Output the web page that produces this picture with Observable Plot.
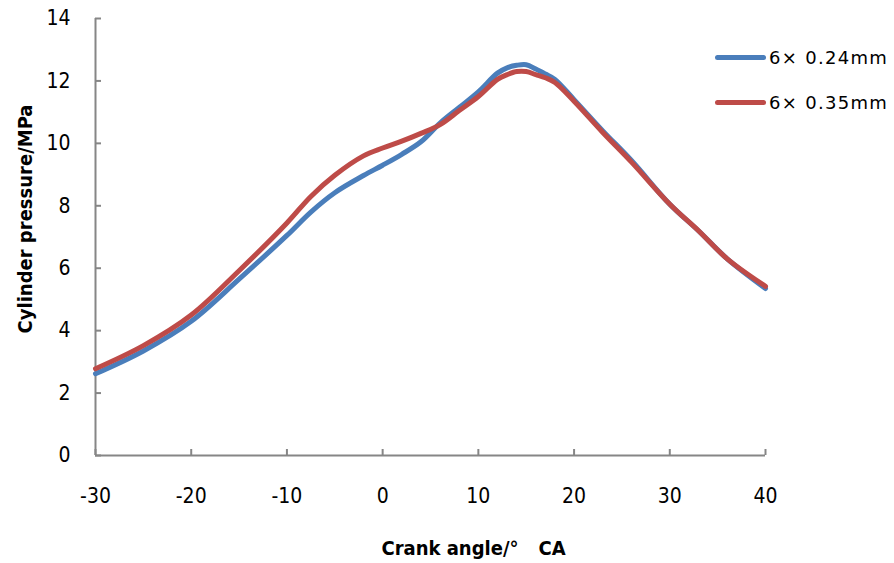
<!DOCTYPE html>
<html>
<head>
<meta charset="utf-8">
<script src="https://cdn.jsdelivr.net/npm/d3@7"></script>
<script src="https://cdn.jsdelivr.net/npm/@observablehq/plot@0.6"></script>
<style>
  html, body { margin: 0; padding: 0; background: #fff; }
  #wrap { position: relative; width: 894px; height: 563px; }
  .legend { position: absolute; left: 715px; font-family: "DejaVu Sans", sans-serif; font-size: 18px; letter-spacing: 1.3px; color: #000; display: flex; align-items: center; white-space: nowrap; }
  .legend .sw { width: 51px; height: 5px; border-radius: 2.5px; margin-right: 3px; }
</style>
</head>
<body>
<div id="wrap"></div>
<script>
// Crank angle (°CA)
const angles = [-30, -25, -20, -15, -10, -7.5, -5, -2, 0, 2, 4, 6, 8, 10, 12, 13, 14, 15, 16, 17, 18, 20, 23, 26, 30, 33, 36, 40];
// Cylinder pressure (MPa), 6×0.24mm
const p024 = [2.62, 3.35, 4.3, 5.65, 7.05, 7.8, 8.42, 8.97, 9.3, 9.65, 10.05, 10.65, 11.15, 11.65, 12.25, 12.42, 12.5, 12.52, 12.38, 12.22, 12.05, 11.4, 10.4, 9.45, 8.05, 7.2, 6.3, 5.35];
// Cylinder pressure (MPa), 6×0.35mm
const p035 = [2.78, 3.52, 4.5, 5.92, 7.45, 8.3, 8.98, 9.6, 9.85, 10.07, 10.32, 10.6, 11.05, 11.5, 12.05, 12.2, 12.3, 12.3, 12.2, 12.1, 11.95, 11.35, 10.35, 9.4, 8.05, 7.2, 6.3, 5.42];
const seriesNames = ["6× 0.24mm", "6× 0.35mm"];
const seriesColors = ["#4a7ebb", "#be4b48"];
const xTicks = [-30, -20, -10, 0, 10, 20, 30, 40];
const yTicks = [0, 2, 4, 6, 8, 10, 12, 14];
const xTitle = "Crank angle/°　CA";
const yTitle = "Cylinder pressure/MPa";

const data = [];
angles.forEach((a, i) => {
  data.push({angle: a, p: p024[i], s: seriesNames[0]});
  data.push({angle: a, p: p035[i], s: seriesNames[1]});
});

const W = 894, H = 563, mL = 95, mR = 129, mT = 18, mB = 108;
const axisColor = "#868686";
const narrow = "'Liberation Sans Narrow', 'Arial Narrow', 'DejaVu Sans Condensed', sans-serif";
const fmt = d => String(d);

const chart = Plot.plot({
  width: W, height: H,
  marginLeft: mL, marginRight: mR, marginTop: mT, marginBottom: mB,
  style: {fontFamily: narrow, background: "#fff", color: "#000"},
  x: {domain: [-30, 40], label: null},
  y: {domain: [0, 14], label: null},
  color: {domain: seriesNames, range: seriesColors},
  marks: [
    Plot.gridY(yTicks, {stroke: axisColor, strokeOpacity: 1, strokeWidth: 2, insetRight: W - mL - mR - 6}),
    Plot.gridX(xTicks, {stroke: axisColor, strokeOpacity: 1, strokeWidth: 2, insetTop: H - mT - mB - 6}),
    Plot.ruleX([-30], {stroke: axisColor, strokeWidth: 2}),
    Plot.ruleY([0], {stroke: axisColor, strokeWidth: 2}),
    Plot.axisY(yTicks, {tickSize: 0, tickPadding: 25, fontSize: 21, label: null, tickFormat: fmt}),
    Plot.axisX(xTicks, {tickSize: 0, tickPadding: 33, fontSize: 21, label: null, tickFormat: fmt}),
    Plot.line(data, {x: "angle", y: "p", z: "s", stroke: "s", strokeWidth: 5, curve: "catmull-rom"}),
    Plot.text([yTitle], {frameAnchor: "left", textAnchor: "middle", lineAnchor: "middle", dx: -70, dy: -18, rotate: -90, fontWeight: "bold", fontSize: 20}),
    Plot.text([xTitle], {frameAnchor: "bottom", textAnchor: "middle", lineAnchor: "middle", dx: 43, dy: 93, fontWeight: "bold", fontSize: 20})
  ]
});
const wrap = document.getElementById("wrap");
wrap.appendChild(chart);

const legendTops = [57, 102];
seriesNames.forEach((n, i) => {
  const row = document.createElement("div");
  row.className = "legend";
  row.style.top = (legendTops[i] - 12) + "px";
  row.style.height = "24px";
  const sw = document.createElement("div");
  sw.className = "sw";
  sw.style.background = seriesColors[i];
  const t = document.createElement("span");
  t.textContent = n;
  row.appendChild(sw);
  row.appendChild(t);
  wrap.appendChild(row);
});
</script>
</body>
</html>
